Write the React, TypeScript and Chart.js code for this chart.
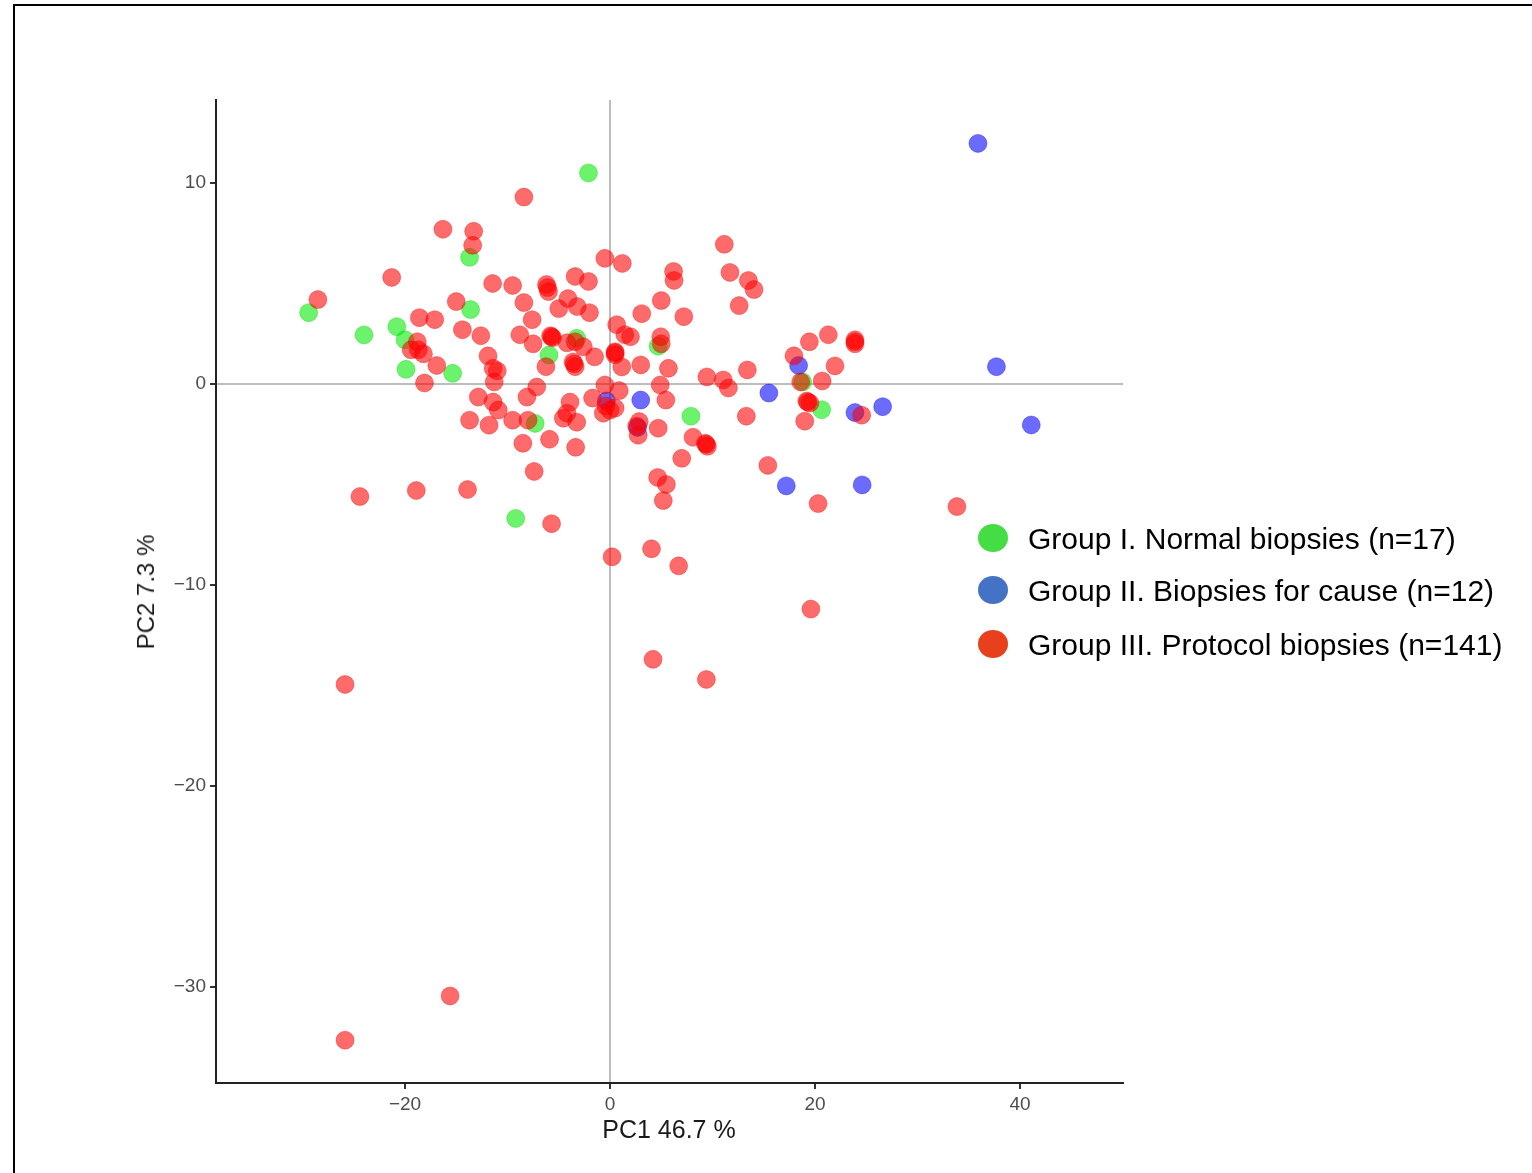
import React, { useEffect, useRef } from "react";
import { Chart, registerables } from "chart.js";

Chart.register(...registerables);

// PCA scores, Group I (normal biopsies)
const groupIPoints: [number, number][] = [
  [-2.1, 10.5], [-13.7, 6.3], [-29.4, 3.55], [-13.6, 3.7], [-24.0, 2.44],
  [-20.8, 2.85], [-20.0, 2.2], [-19.9, 0.73], [-15.35, 0.53], [-3.25, 2.27],
  [-5.95, 1.44], [-7.3, -1.96], [4.7, 1.88], [7.9, -1.6], [20.65, -1.28],
  [-9.2, -6.69], [18.8, 0.1],
];

// Group II (biopsies for cause)
const groupIIPoints: [number, number][] = [
  [35.9, 11.97], [37.7, 0.86], [41.1, -2.04], [26.6, -1.13], [23.9, -1.42],
  [24.6, -5.02], [17.2, -5.07], [15.5, -0.45], [18.4, 0.92], [3.0, -0.8],
  [2.7, -2.16], [-0.35, -0.84],
];

// Group III (protocol biopsies)
const groupIIIPoints: [number, number][] = [
  [-8.4, 9.3], [-16.3, 7.7], [-13.3, 7.6], [-13.4, 6.9], [-21.3, 5.3],
  [-28.5, 4.2], [-0.5, 6.25], [1.2, 6.0], [-11.45, 5.0], [-9.5, 4.9],
  [-6.2, 4.95], [-6.0, 4.6], [-3.4, 5.35], [-2.1, 5.1], [-15.0, 4.1],
  [-8.4, 4.05], [-4.1, 4.25], [-5.0, 3.75], [-3.2, 3.85], [-2.0, 3.55],
  [-7.6, 3.2], [-18.6, 3.3], [-17.1, 3.2], [-14.4, 2.7], [-12.6, 2.4],
  [-8.8, 2.45], [-7.5, 2.0], [-5.8, 2.4], [-5.6, 2.3], [-4.2, 2.05],
  [-3.4, 2.1], [-2.6, 1.85], [-1.5, 1.35], [-18.8, 2.1], [-18.7, 1.7],
  [-18.2, 1.5], [-19.4, 1.7], [-16.9, 0.92], [-18.1, 0.05], [-11.9, 1.4],
  [-11.4, 0.78], [-11.0, 0.65], [-11.3, 0.1], [-6.25, 0.86], [-3.6, 1.1],
  [-3.4, 0.86], [-7.15, -0.15], [-8.1, -0.65], [-12.85, -0.65], [-11.4, -0.9],
  [-10.9, -1.3], [-13.7, -1.8], [-11.8, -2.05], [-9.5, -1.8], [-8.0, -1.8],
  [-3.9, -0.9], [-4.2, -1.45], [-4.55, -1.7], [-3.25, -1.9], [-1.7, -0.7],
  [-0.5, -0.05], [-0.4, -1.1], [0.0, -1.3], [0.5, -1.2], [-8.5, -2.95],
  [-5.9, -2.75], [-3.35, -3.15], [-7.4, -4.35], [-24.4, -5.6], [-18.9, -5.3],
  [-13.9, -5.25], [-5.7, -6.95], [0.2, -8.6], [4.05, -8.2], [6.7, -9.05],
  [4.2, -13.7], [9.4, -14.7], [-25.85, -14.95], [-25.85, -32.65], [-15.6, -30.45],
  [6.2, 5.6], [6.25, 5.15], [11.15, 6.95], [11.7, 5.55], [13.5, 5.15],
  [14.05, 4.7], [12.6, 3.9], [5.0, 4.15], [3.1, 3.5], [7.2, 3.35],
  [0.65, 2.95], [1.45, 2.45], [2.0, 2.35], [4.95, 2.35], [5.0, 2.0],
  [0.5, 1.6], [0.5, 1.45], [1.15, 0.85], [3.0, 0.95], [5.7, 0.78],
  [9.45, 0.35], [0.9, -0.33], [4.9, -0.05], [5.45, -0.8], [2.85, -1.87],
  [2.75, -2.55], [4.7, -2.2], [8.1, -2.65], [9.3, -2.95], [9.5, -3.1],
  [7.0, -3.7], [4.65, -4.65], [5.5, -5.0], [5.2, -5.8], [11.05, 0.2],
  [11.55, -0.2], [13.4, 0.7], [13.3, -1.6], [17.95, 1.4], [19.45, 2.1],
  [21.3, 2.45], [23.9, 2.2], [23.9, 2.0], [21.95, 0.9], [20.7, 0.15],
  [18.6, 0.1], [19.2, -0.85], [19.5, -0.95], [19.0, -1.85], [24.55, -1.55],
  [15.4, -4.05], [20.3, -5.95], [33.85, -6.1], [19.6, -11.2], [-0.65, -1.45],
  [2.6, -2.1], [-5.7, 2.35], [-3.5, 1.0], [0.5, 1.55], [9.4, -3.0],
  [19.3, -0.9], [23.9, 2.1], [-6.1, 4.8],
];

const xTickValues = [-20, 0, 20, 40];
const yTickValues = [10, 0, -10, -20, -30];

const legendLabels = [
  "Group I. Normal biopsies (n=17)",
  "Group II. Biopsies for cause (n=12)",
  "Group III. Protocol biopsies (n=141)",
];
const legendColors = ["#44dd44", "#4472c4", "#e8401c"];

const xTitle = "PC1 46.7 %";
const yTitle = "PC2 7.3 %";

const fmt = (v: number) => (v < 0 ? "\u2212" + Math.abs(v) : String(v));

export default function App() {
  const canvasRef = useRef<HTMLCanvasElement | null>(null);

  useEffect(() => {
    const canvas = canvasRef.current;
    if (!canvas) return;
    const toXY = (arr: [number, number][]) => arr.map(([x, y]) => ({ x, y }));
    const zeroGrid = (ctx: any) =>
      ctx.tick && ctx.tick.value === 0 ? "#bdbdbd" : "rgba(0,0,0,0)";
    const tickFont = { family: "Liberation Sans, Arial, sans-serif", size: 19 };
    const chart = new Chart(canvas, {
      type: "scatter",
      data: {
        datasets: [
          {
            label: legendLabels[2],
            data: toXY(groupIIIPoints),
            backgroundColor: "rgba(255,0,0,0.58)",
            borderColor: "rgba(230,0,0,0.35)",
            borderWidth: 1,
            pointRadius: 9,
          },
          {
            label: legendLabels[1],
            data: toXY(groupIIPoints),
            backgroundColor: "rgba(0,0,255,0.58)",
            borderColor: "rgba(0,0,230,0.35)",
            borderWidth: 1,
            pointRadius: 9,
          },
          {
            label: legendLabels[0],
            data: toXY(groupIPoints),
            backgroundColor: "rgba(0,235,0,0.58)",
            borderColor: "rgba(0,210,0,0.35)",
            borderWidth: 1,
            pointRadius: 9,
          },
        ],
      },
      options: {
        responsive: false,
        animation: false,
        devicePixelRatio: 1,
        layout: { padding: { left: 136, right: 409, top: 100, bottom: 30 } },
        plugins: { legend: { display: false }, tooltip: { enabled: false } },
        scales: {
          x: {
            type: "linear",
            min: -38.44,
            max: 50.05,
            afterBuildTicks: (s: any) => {
              s.ticks = xTickValues.map((v) => ({ value: v }));
            },
            afterFit: (s: any) => {
              s.height = 60;
            },
            ticks: {
              callback: (v: any) => fmt(Number(v)),
              color: "#4d4d4d",
              font: tickFont,
              padding: 4,
              maxRotation: 0,
            },
            grid: {
              color: zeroGrid,
              lineWidth: 2,
              drawTicks: true,
              tickLength: 6,
              tickColor: "#333333",
              tickWidth: 2,
            },
            border: { display: true, color: "#222222", width: 2 },
          },
          y: {
            type: "linear",
            min: -34.78,
            max: 14.13,
            afterBuildTicks: (s: any) => {
              s.ticks = yTickValues.map((v) => ({ value: v }));
            },
            afterFit: (s: any) => {
              s.width = 80;
            },
            ticks: {
              callback: (v: any) => fmt(Number(v)),
              color: "#4d4d4d",
              font: tickFont,
              padding: 4,
            },
            grid: {
              color: zeroGrid,
              lineWidth: 2,
              drawTicks: true,
              tickLength: 6,
              tickColor: "#333333",
              tickWidth: 2,
            },
            border: { display: true, color: "#222222", width: 2 },
          },
        },
      },
    });
    return () => chart.destroy();
  }, []);

  const font = "'Liberation Sans', Arial, sans-serif";
  const legendY = [538, 590, 644];

  return (
    <div
      style={{
        position: "fixed",
        left: 0,
        top: 0,
        width: 1532,
        height: 1173,
        overflow: "hidden",
        background: "#ffffff",
      }}
    >
      <div
        style={{
          position: "absolute",
          left: 13,
          top: 4,
          width: 1600,
          height: 1300,
          border: "2px solid #000",
          boxSizing: "border-box",
        }}
      />
      <canvas
        ref={canvasRef}
        width={1532}
        height={1173}
        style={{ position: "absolute", left: 0, top: 0, width: 1532, height: 1173 }}
      />
      <div
        style={{
          position: "absolute",
          left: 669,
          top: 1129,
          transform: "translate(-50%, -50%)",
          fontFamily: font,
          fontSize: 25,
          color: "#1a1a1a",
          whiteSpace: "nowrap",
        }}
      >
        {xTitle}
      </div>
      <div
        style={{
          position: "absolute",
          left: 146,
          top: 592,
          transform: "translate(-50%, -50%) rotate(-90deg)",
          fontFamily: font,
          fontSize: 24,
          color: "#1a1a1a",
          whiteSpace: "nowrap",
        }}
      >
        {yTitle}
      </div>
      {legendLabels.map((label, i) => (
        <React.Fragment key={label}>
          <div
            style={{
              position: "absolute",
              left: 993 - 15,
              top: legendY[i] - 14,
              width: 30,
              height: 28,
              borderRadius: "50%",
              background: legendColors[i],
            }}
          />
          <div
            style={{
              position: "absolute",
              left: 1028,
              top: legendY[i] + 1,
              transform: "translateY(-50%)",
              fontFamily: font,
              fontSize: 30,
              color: "#000",
              whiteSpace: "nowrap",
            }}
          >
            {label}
          </div>
        </React.Fragment>
      ))}
    </div>
  );
}
